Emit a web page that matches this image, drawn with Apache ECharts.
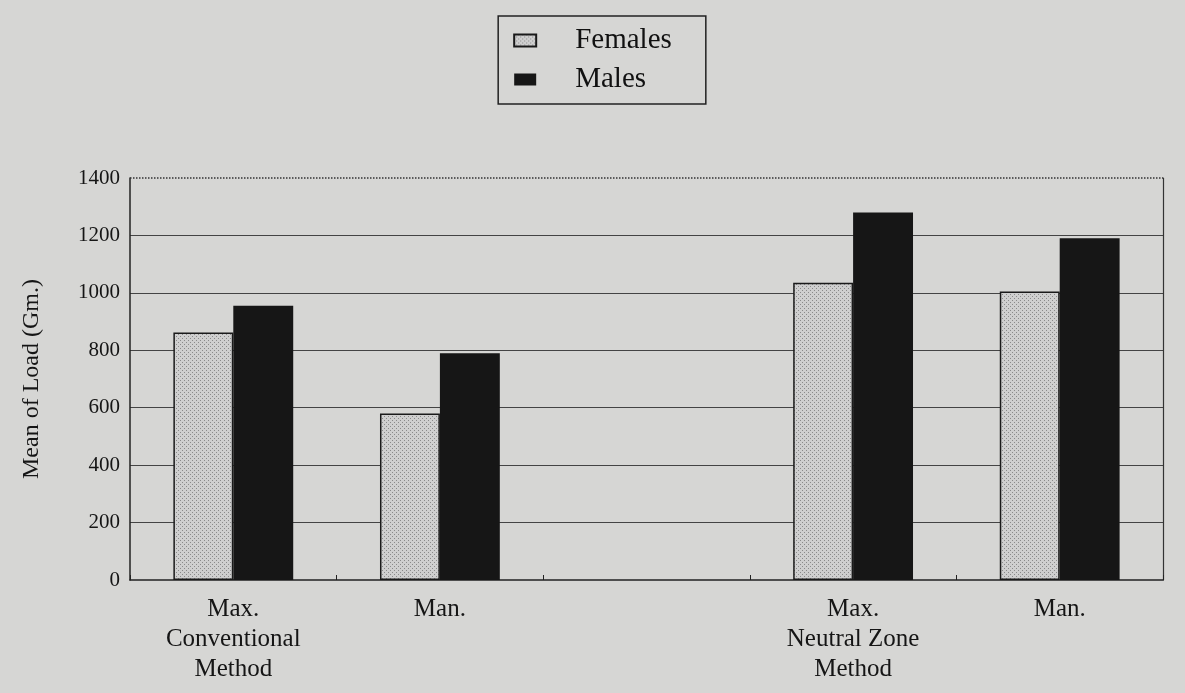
<!DOCTYPE html>
<html>
<head>
<meta charset="utf-8">
<script src="https://cdn.jsdelivr.net/npm/echarts@6/dist/echarts.min.js"></script>
<style>
    html, body {margin: 0; padding: 0; background: #d6d6d4;}
    #chart {width: 1185px; height: 693px;}
</style>
</head>
<body>
<div id="chart"></div>
<script>
// categories (the empty one is the gap between the two methods)
var categories = ['Max.\nConventional\nMethod', 'Man.', '', 'Max.\nNeutral Zone\nMethod', 'Man.'];
var femaleValues = [862, 580, null, 1035, 1005];
var maleValues = [955, 790, null, 1280, 1190];
var yMin = 0;
var yMax = 1400;
var yStep = 200;

window.onload = function () {
    var chart = echarts.init(document.getElementById('chart'));
    var serif = '"Liberation Serif", "DejaVu Serif", serif';

    // stipple pattern for the females bars
    var pat = document.createElement('canvas');
    pat.width = 4;
    pat.height = 4;
    var ctx = pat.getContext('2d');
    ctx.fillStyle = '#cfcfcf';
    ctx.fillRect(0, 0, 4, 4);
    ctx.fillStyle = '#8a8a8a';
    ctx.fillRect(0, 0, 1, 1);
    ctx.fillRect(2, 2, 1, 1);

    var option = {
        backgroundColor: '#d6d6d4',
        animation: false,
        legend: {
            orient: 'vertical',
            top: 16,
            left: 'center',
            padding: [10, 34, 10, 15],
            itemGap: 10,
            itemWidth: 22,
            itemHeight: 12,
            icon: 'rect',
            borderColor: '#222',
            borderWidth: 1.5,
            textStyle: {fontFamily: serif, fontSize: 29, color: '#111', padding: [0, 0, 0, 34]},
            data: ['Females', 'Males']
        },
        grid: {
            left: 130,
            right: 22,
            top: 178,
            bottom: 113
        },
        xAxis: {
            type: 'category',
            data: categories,
            axisLine: {lineStyle: {color: '#222', width: 1.5}},
            axisTick: {show: true, inside: true, length: 5, lineStyle: {color: '#222'}},
            axisLabel: {
                fontFamily: serif,
                fontSize: 25,
                color: '#151515',
                lineHeight: 30,
                margin: 14,
                interval: 0
            }
        },
        yAxis: [
            {
                type: 'value',
                min: yMin,
                max: yMax,
                interval: yStep,
                name: 'Mean of Load (Gm.)',
                nameLocation: 'middle',
                nameGap: 86,
                nameTextStyle: {fontFamily: serif, fontSize: 24, color: '#151515'},
                axisLine: {show: true, lineStyle: {color: '#222', width: 1.5}},
                axisTick: {show: false},
                axisLabel: {
                    fontFamily: serif, fontSize: 21, color: '#151515', margin: 10,
                    formatter: function (v) { return String(v); }
                },
                splitLine: {
                    show: true,
                    showMinLine: false,
                    showMaxLine: false,
                    lineStyle: {color: '#444', width: 1.2}
                }
            },
            {
                type: 'value',
                position: 'right',
                min: yMin,
                max: yMax,
                interval: yStep,
                axisLine: {show: true, lineStyle: {color: '#333', width: 1.2}},
                axisTick: {show: false},
                axisLabel: {show: false},
                splitLine: {show: false}
            }
        ],
        series: [
            {
                name: 'Females',
                type: 'bar',
                data: femaleValues,
                barGap: '0%',
                barCategoryGap: '42%',
                itemStyle: {
                    color: {image: pat, repeat: 'repeat'},
                    borderColor: '#1a1a1a',
                    borderWidth: 1.5
                },
                markLine: {
                    silent: true,
                    symbol: 'none',
                    label: {show: false},
                    lineStyle: {type: 'dotted', color: '#333', width: 1.5},
                    data: [{yAxis: yMax}]
                }
            },
            {
                name: 'Males',
                type: 'bar',
                data: maleValues,
                itemStyle: {
                    color: '#161616'
                }
            }
        ]
    };

    chart.setOption(option);
};
</script>
</body>
</html>
